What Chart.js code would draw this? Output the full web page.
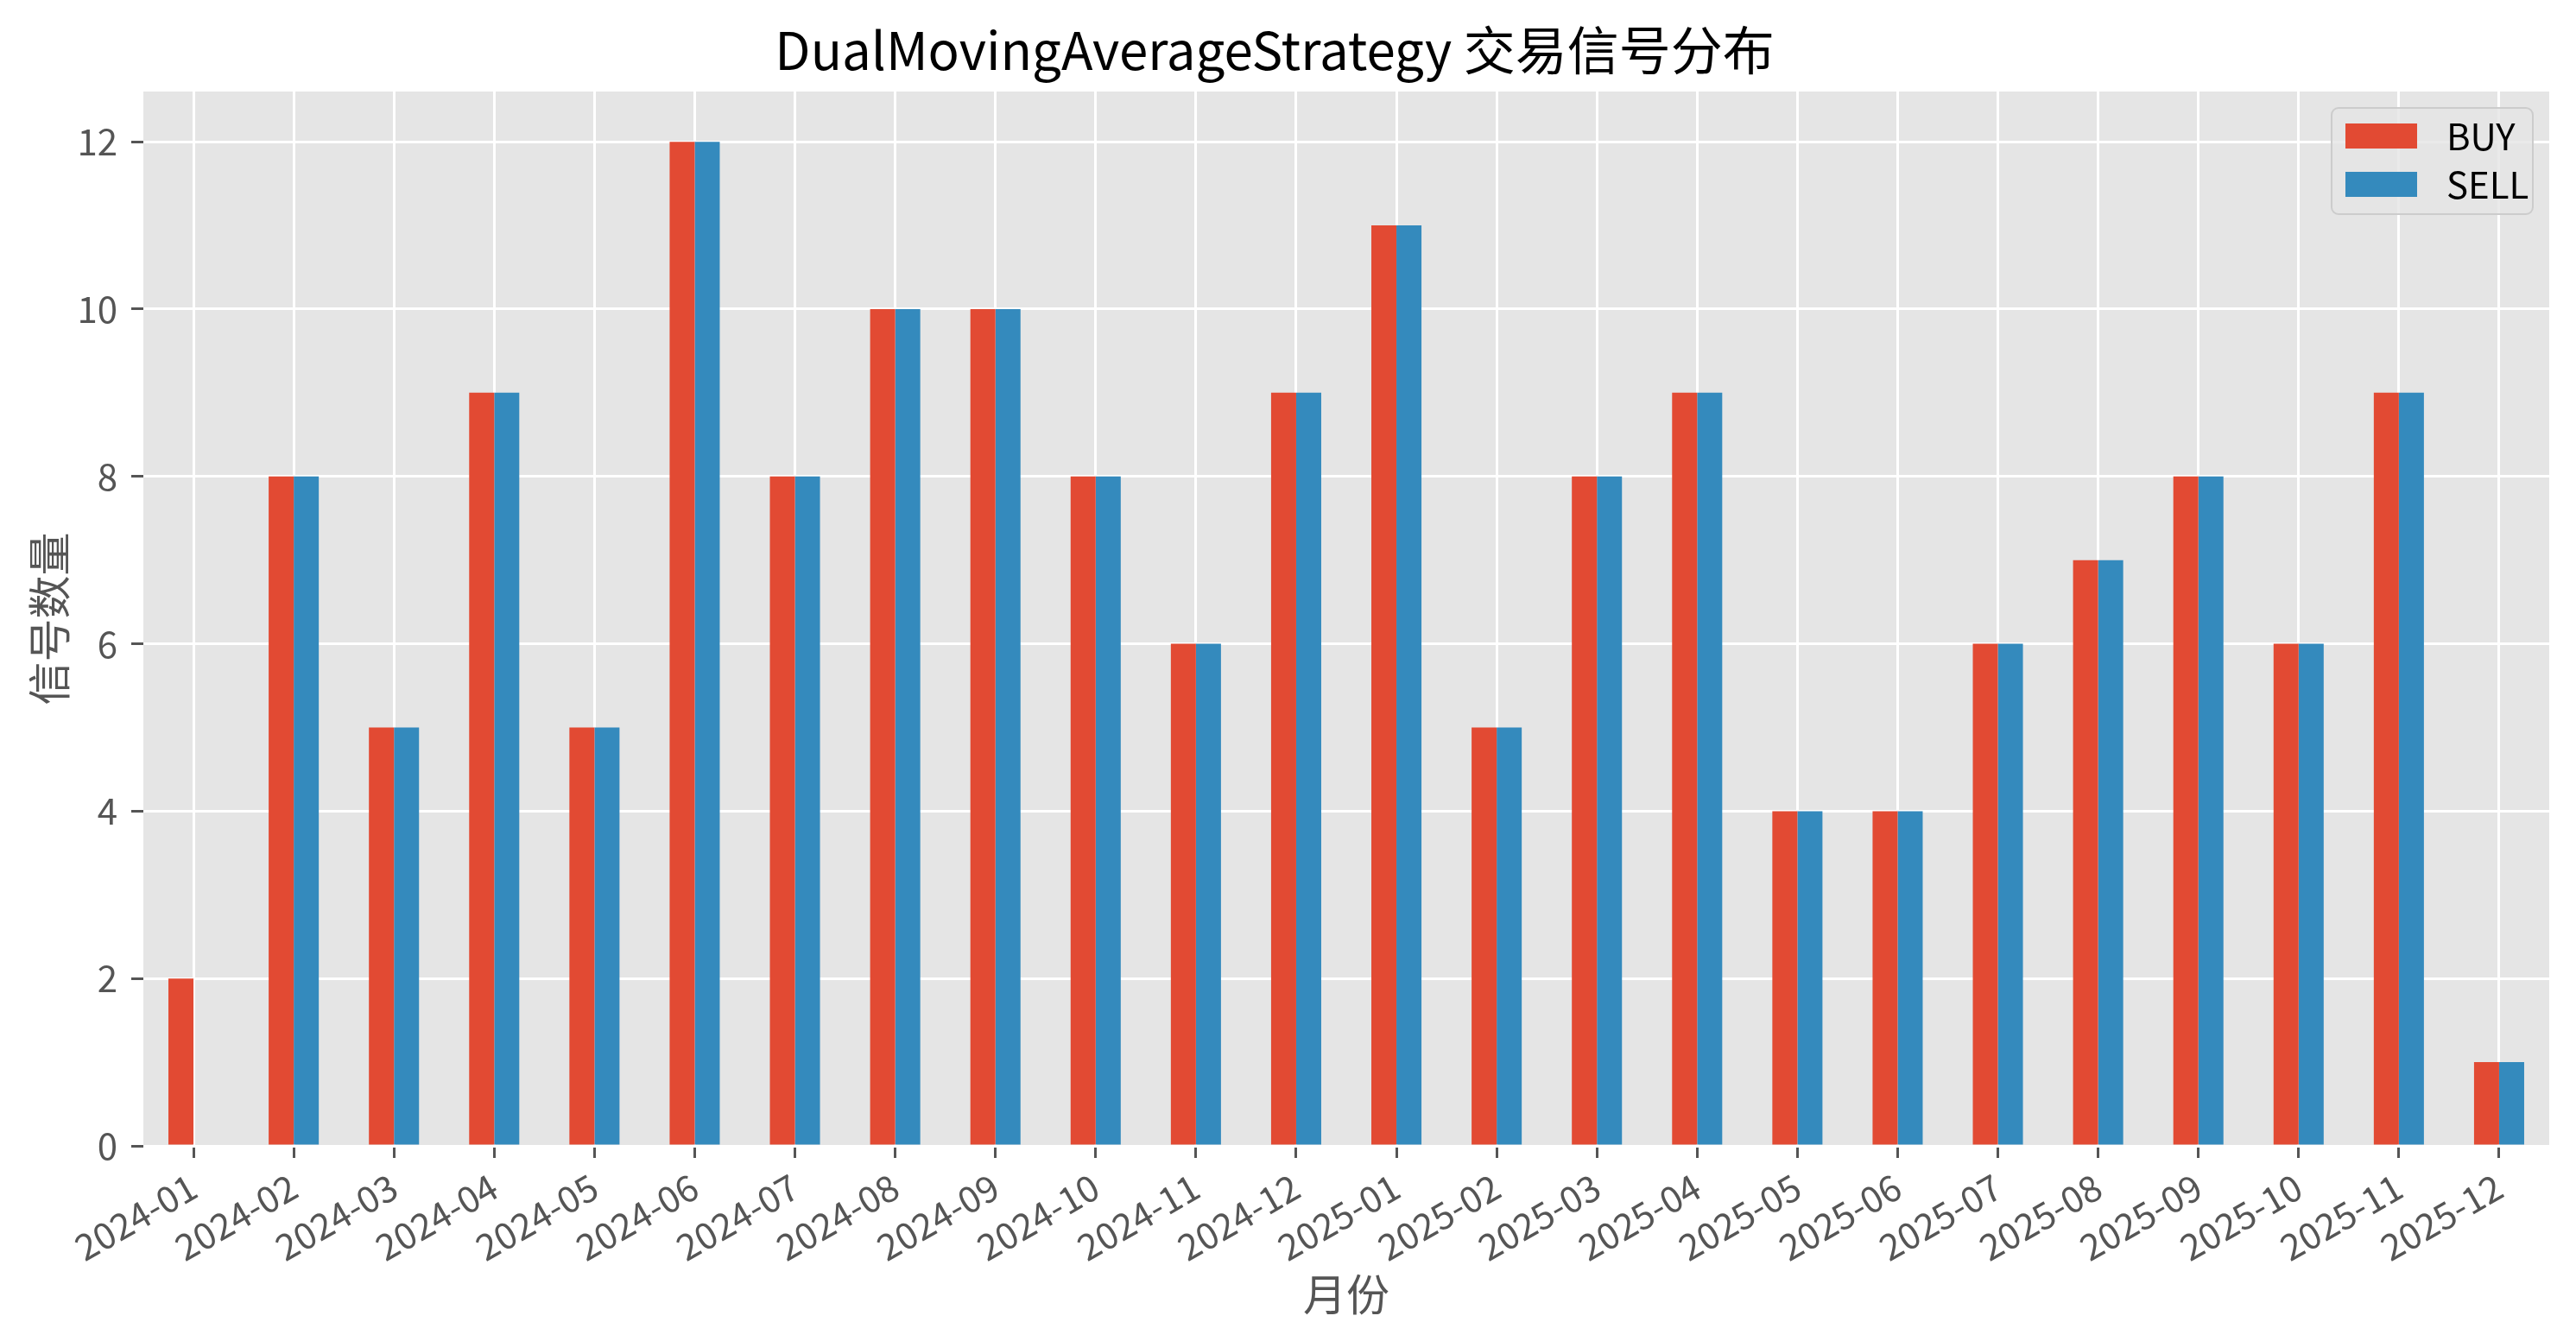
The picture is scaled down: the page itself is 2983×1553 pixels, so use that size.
<!DOCTYPE html>
<html>
<head>
<meta charset="utf-8">
<script src="https://cdn.jsdelivr.net/npm/chart.js@4.4.0/dist/chart.umd.min.js"></script>
<style>
    html, body { margin: 0; padding: 0; background: #ffffff; }
</style>
</head>
<body>
<canvas id="myChart" width="2983" height="1553"></canvas>
<script>
// Données du graphique
const months = ['2024-01', '2024-02', '2024-03', '2024-04', '2024-05', '2024-06',
    '2024-07', '2024-08', '2024-09', '2024-10', '2024-11', '2024-12',
    '2025-01', '2025-02', '2025-03', '2025-04', '2025-05', '2025-06',
    '2025-07', '2025-08', '2025-09', '2025-10', '2025-11', '2025-12'];
const buyCounts = [2, 8, 5, 9, 5, 12, 8, 10, 10, 8, 6, 9, 11, 5, 8, 9, 4, 4, 6, 7, 8, 6, 9, 1];
const sellCounts = [0, 8, 5, 9, 5, 12, 8, 10, 10, 8, 6, 9, 11, 5, 8, 9, 4, 4, 6, 7, 8, 6, 9, 1];
const seriesNames = ['BUY', 'SELL'];
const yTickStep = 2;
const yMax = 12.6;

const FONT = '"Liberation Sans Narrow", "Noto Sans CJK SC", sans-serif';
const GREY = '#555555';

// Fond gris de la zone de tracé (style ggplot)
const plotBg = {
    id: 'plotBg',
    beforeDraw(chart) {
        const { ctx, chartArea: a } = chart;
        ctx.save();
        ctx.fillStyle = '#E5E5E5';
        ctx.fillRect(a.left, a.top, a.right - a.left, a.bottom - a.top);
        ctx.restore();
    }
};

// Légende dans le coin haut droit, à l'intérieur des axes
const boxLegend = {
    id: 'boxLegend',
    afterDraw(chart) {
        const { ctx, chartArea: a } = chart;
        const w = 233, h = 123;
        const x0 = a.right - 19 - w;
        const y0 = a.top + 19;
        ctx.save();
        ctx.beginPath();
        ctx.roundRect(x0, y0, w, h, 8);
        ctx.fillStyle = 'rgba(229,229,229,0.8)';
        ctx.fill();
        ctx.lineWidth = 2;
        ctx.strokeStyle = '#CCCCCC';
        ctx.stroke();
        ctx.font = '42px ' + FONT;
        ctx.textBaseline = 'middle';
        ctx.textAlign = 'left';
        chart.data.datasets.forEach((ds, i) => {
            const ry = y0 + 18 + i * 56;
            ctx.fillStyle = ds.backgroundColor;
            ctx.fillRect(x0 + 16, ry, 83, 29);
            ctx.fillStyle = '#000000';
            ctx.fillText(ds.label, x0 + 133, ry + 15);
        });
        ctx.restore();
    }
};

const ctx = document.getElementById('myChart').getContext('2d');
const myChart = new Chart(ctx, {
    type: 'bar',
    data: {
        labels: months,
        datasets: [{
            label: seriesNames[0],
            data: buyCounts,
            backgroundColor: '#E24A33',
            borderWidth: 0,
            categoryPercentage: 0.5,
            barPercentage: 1.0
        }, {
            label: seriesNames[1],
            data: sellCounts,
            backgroundColor: '#348ABD',
            borderWidth: 0,
            categoryPercentage: 0.5,
            barPercentage: 1.0
        }]
    },
    options: {
        responsive: false,
        animation: false,
        devicePixelRatio: 1,
        layout: { padding: { left: 0, right: 31, top: 0, bottom: 0 } },
        plugins: {
            legend: { display: false },
            tooltip: { enabled: false },
            title: {
                display: true,
                text: 'DualMovingAverageStrategy 交易信号分布',
                color: '#000000',
                font: { family: FONT, size: 60, weight: 'normal' },
                padding: { top: 22, bottom: 12 }
            }
        },
        scales: {
            x: {
                offset: true,
                ticks: {
                    color: GREY,
                    font: { family: FONT, size: 42 },
                    maxRotation: 30,
                    minRotation: 30,
                    autoSkip: false,
                    padding: 8
                },
                grid: {
                    offset: false,
                    color: '#FFFFFF',
                    lineWidth: 3,
                    tickColor: GREY,
                    tickLength: 14,
                    tickWidth: 3
                },
                border: { display: false },
                title: {
                    display: true,
                    text: '月份',
                    color: GREY,
                    font: { family: FONT, size: 50 },
                    padding: { top: 0, bottom: 24 }
                },
                afterFit(scale) { scale.height = 226; }
            },
            y: {
                min: 0,
                max: yMax,
                ticks: {
                    stepSize: yTickStep,
                    includeBounds: false,
                    color: GREY,
                    font: { family: FONT, size: 42 },
                    padding: 16
                },
                grid: {
                    color: '#FFFFFF',
                    lineWidth: 3,
                    tickColor: GREY,
                    tickLength: 14,
                    tickWidth: 3
                },
                border: { display: false },
                title: {
                    display: true,
                    text: '信号数量',
                    color: GREY,
                    font: { family: FONT, size: 50 },
                    padding: { top: 27, bottom: 0 }
                },
                afterFit(scale) { scale.width = 166; }
            }
        }
    },
    plugins: [plotBg, boxLegend]
});
</script>
</body>
</html>
